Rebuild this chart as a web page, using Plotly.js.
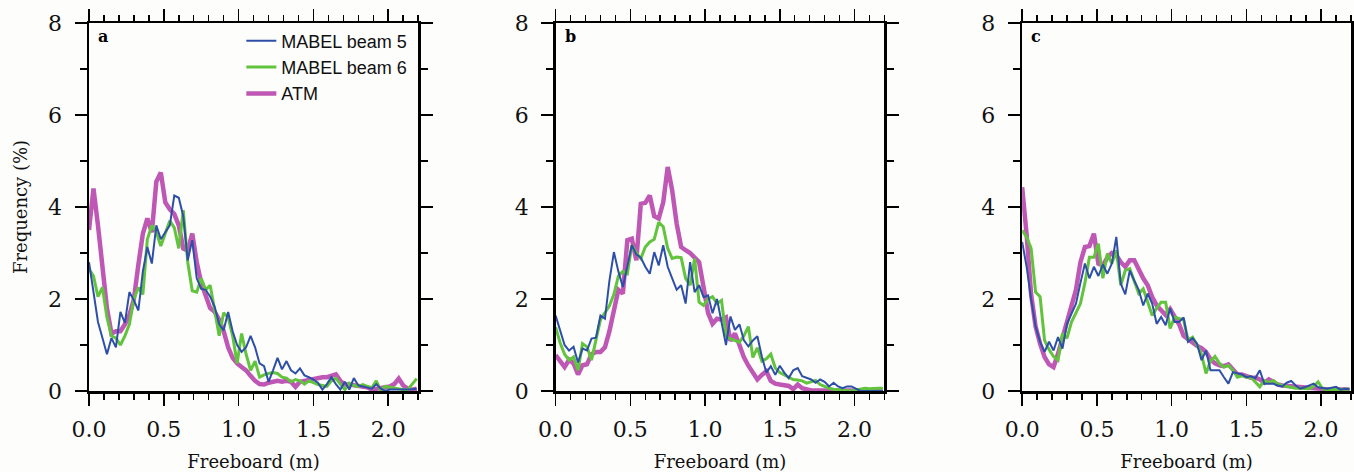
<!DOCTYPE html>
<html>
<head>
<meta charset="utf-8">
<script src="https://cdn.plot.ly/plotly-3.0.1.min.js"></script>
<style>html,body{margin:0;padding:0;background:#fdfdfc;}</style>
</head>
<body>
<div id="chart" style="width:1354px;height:472px;"></div>
<script>
// Freeboard bin centres (m)
const freeboard = [0,0.03,0.06,0.09,0.12,0.15,0.18,0.21,0.24,0.27,0.30,0.33,0.36,0.39,0.42,0.45,0.48,0.51,0.54,0.57,
  0.60,0.63,0.66,0.69,0.72,0.75,0.78,0.81,0.84,0.87,0.90,0.93,0.96,0.99,1.02,1.05,1.08,1.11,1.14,1.17,
  1.20,1.23,1.26,1.29,1.32,1.35,1.38,1.41,1.44,1.47,1.50,1.53,1.56,1.59,1.62,1.65,1.68,1.71,1.74,1.77,
  1.80,1.83,1.86,1.89,1.92,1.95,1.98,2.01,2.04,2.07,2.10,2.13,2.16,2.19];

const seriesNames = ['MABEL beam 5', 'MABEL beam 6', 'ATM'];
const panelLabels = ['a', 'b', 'c'];

// Panel a
const a_beam5 = [2.8,2.1,1.5,1.15,0.8,1.15,0.95,1.72,1.48,2.15, 1.97,1.75,2.6,3.13,2.77,3.6,3.3,3.45,3.6,4.25,
  4.2,3.8,2.84,3.28,2.45,2.22,2.2,2.05,1.83,1.45, 1.32,1.72,1.3,1.0,0.85,0.95,1.2,0.95,0.6,0.54,
  0.2,0.45,0.72,0.47,0.65,0.45,0.38,0.49,0.34,0.3, 0.25,0.18,0.03,0.15,0.3,0.15,0.03,0.2,0.03,0.28,
  0.12,0.1,0.08,0.05,0.15,0.05,0.0,0.03,0.03,0.03, 0.04,0.03,0.04,0.05];
const a_beam6 = [2.65,2.5,2.05,2.25,1.6,1.2,1.15,1.0,1.2,1.45, 2.0,2.25,2.1,3.3,3.6,3.45,3.15,3.45,3.7,3.55,
  3.1,3.93,2.8,2.18,2.15,2.45,2.2,2.3,1.75,1.2, 1.7,1.6,1.2,0.6,1.25,0.8,0.45,0.65,0.3,0.35,
  0.38,0.4,0.38,0.3,0.28,0.2,0.25,0.22,0.15,0.22, 0.18,0.14,0.12,0.1,0.22,0.28,0.15,0.03,0.17,0.12,
  0.1,0.14,0.1,0.07,0.22,0.01,0.1,0.08,0.07,0.05, 0.03,0.03,0.15,0.27];
const a_atm = [3.5,4.4,3.6,2.6,1.8,1.25,1.3,1.3,1.45,1.65, 2.0,2.75,3.42,3.75,3.45,4.55,4.75,4.1,3.95,3.85,
  3.6,3.1,3.05,3.42,2.8,2.35,2.1,1.8,1.72,1.55, 1.3,0.95,0.72,0.6,0.52,0.45,0.33,0.22,0.15,0.14,
  0.18,0.2,0.22,0.2,0.22,0.2,0.09,0.2,0.22,0.25, 0.27,0.28,0.3,0.3,0.32,0.36,0.22,0.14,0.14,0.12,
  0.1,0.1,0.08,0.03,0.04,0.05,0.08,0.1,0.15,0.27, 0.12,0.05,0.03,0.05];

// Panel b
const b_beam5 = [1.64,1.3,1.0,0.88,0.96,0.62,0.92,0.88,1.14,1.16, 1.64,1.57,2.4,3.02,2.6,2.26,2.7,3.17,2.97,2.9,
  2.7,2.55,3.02,2.73,3.17,2.7,2.45,2.2,2.3,1.9, 2.8,2.15,2.3,2.04,2.08,1.69,2.0,1.5,1.0,1.62,
  1.33,1.45,1.1,0.97,1.1,1.19,0.75,0.4,0.54,0.35, 0.55,0.4,0.28,0.45,0.5,0.32,0.28,0.25,0.18,0.25,
  0.2,0.1,0.18,0.1,0.06,0.1,0.1,0.05,0.0,0.0, 0.0,0.0,0.0,0.0];
const b_beam6 = [1.39,1.05,0.8,0.67,0.74,0.45,1.03,0.96,0.67,1.15, 1.55,1.7,1.85,2.1,2.5,2.6,2.55,3.17,3.0,2.88,
  3.13,3.24,3.3,3.67,3.57,3.1,2.88,2.91,2.9,2.45, 2.3,2.88,1.93,1.86,2.0,2.05,1.9,1.97,1.2,1.13,
  1.1,1.06,1.2,1.4,0.73,0.94,0.65,0.7,0.8,0.5, 0.4,0.35,0.3,0.25,0.24,0.22,0.17,0.2,0.23,0.14,
  0.1,0.06,0.04,0.03,0.03,0.02,0.0,0.02,0.04,0.06, 0.05,0.06,0.06,0.06];
const b_atm = [0.78,0.65,0.52,0.68,0.6,0.36,0.56,0.58,0.8,0.85, 0.85,0.95,1.3,1.75,2.2,2.12,3.28,3.31,2.84,4.07,
  4.09,4.25,3.8,3.75,4.1,4.87,4.36,3.64,3.13,3.06, 3.0,2.9,2.8,2.26,1.7,1.46,1.57,1.55,1.6,1.09,
  1.25,1.0,0.73,0.55,0.4,0.25,0.35,0.43,0.22,0.16, 0.14,0.12,0.11,0.04,0.14,0.06,0.03,0.01,0.01,0.01,
  0.01,0.01,0.01,0.01,0.01,0.01,0.01,0.01,0.01,0.01, 0.01,0.01,0.01,0.01];

// Panel c
const c_beam5 = [3.24,2.7,2.0,1.4,1.07,0.85,1.07,0.88,1.17,0.92, 1.46,1.68,1.9,2.35,2.77,2.45,2.7,2.5,2.75,2.55,
  2.77,3.35,2.33,2.1,2.62,2.4,2.2,1.86,2.12,1.9, 1.46,1.61,1.43,1.8,1.5,1.5,1.6,1.07,1.15,1.03,
  0.67,0.88,0.45,0.45,0.45,0.3,0.16,0.41,0.39,0.36, 0.3,0.32,0.28,0.45,0.16,0.16,0.16,0.12,0.1,0.18,
  0.22,0.12,0.05,0.08,0.12,0.16,0.08,0.06,0.05,0.07, 0.09,0.03,0.05,0.04];
const c_beam6 = [3.49,3.35,3.1,2.15,2.05,1.1,0.9,0.75,0.67,1.25, 1.15,1.5,1.7,1.9,2.35,2.91,2.91,3.2,2.45,2.99,
  2.77,3.06,2.3,2.62,2.66,2.4,2.12,2.22,1.95,1.64, 1.8,1.93,1.93,1.36,1.6,1.58,1.55,1.1,1.17,1.0,
  0.8,0.38,0.65,0.75,0.6,0.52,0.56,0.45,0.3,0.33, 0.3,0.3,0.2,0.09,0.23,0.18,0.23,0.15,0.12,0.1,
  0.08,0.06,0.06,0.05,0.05,0.1,0.2,0.05,0.03,0.03, 0.03,0.03,0.03,0.04];
const c_atm = [4.43,3.4,2.1,1.4,1.03,0.74,0.58,0.52,0.81,1.15, 1.5,1.8,2.2,2.8,3.13,3.15,3.42,2.77,2.73,2.9,
  3.0,2.95,2.8,2.7,2.84,2.84,2.62,2.45,2.3,2.04, 1.86,1.75,1.65,1.78,1.6,1.45,1.2,1.12,1.05,0.98,
  0.93,0.85,0.69,0.6,0.56,0.54,0.58,0.45,0.36,0.36, 0.33,0.29,0.29,0.25,0.18,0.25,0.2,0.14,0.12,0.11,
  0.1,0.09,0.08,0.07,0.06,0.05,0.04,0.03,0.03,0.03, 0.03,0.03,0.03,0.03];

const panels = [
  {beam5: a_beam5, beam6: a_beam6, atm: a_atm},
  {beam5: b_beam5, beam6: b_beam6, atm: b_atm},
  {beam5: c_beam5, beam6: c_beam6, atm: c_atm}
];

const colors = {beam5: '#2d4fa7', beam6: '#62c33c', atm: '#bf57b5'};
const widths = {beam5: 2, beam6: 3, atm: 4.5};

const traces = [];
panels.forEach((p, i) => {
  const sfx = i === 0 ? '' : String(i + 1);
  const order = [['atm', 2], ['beam6', 1], ['beam5', 0]];
  order.forEach(([key, ni]) => {
    traces.push({
      type: 'scatter', mode: 'lines',
      x: freeboard, y: p[key],
      name: seriesNames[ni],
      xaxis: 'x' + sfx, yaxis: 'y' + sfx,
      line: {color: colors[key], width: widths[key]},
      showlegend: i === 0,
      hoverinfo: 'skip'
    });
  });
});

const domains = [[0, 0.26083], [0.36975, 0.63026], [0.73942, 1]];
const serif = 'DejaVu Serif, Liberation Serif, serif';

function xAxis(dom, anchor) {
  return {
    domain: dom, anchor: anchor, range: [0, 2.2], tick0: 0, dtick: 0.5, tickformat: '.1f',
    ticks: 'outside', ticklen: 12, tickwidth: 1.5, tickcolor: '#000',
    minor: {tick0: 0, dtick: 0.1, ticks: 'outside', ticklen: 6, tickwidth: 1.5, tickcolor: '#000'},
    showline: true, linewidth: 2.5, linecolor: '#000', mirror: 'allticks',
    showgrid: false, zeroline: false, ticklabelstandoff: 5,
    tickfont: {family: serif, size: 22, color: '#111'},
    title: {text: 'Freeboard (m)', font: {family: serif, size: 18, color: '#111'}, standoff: 18}
  };
}
function yAxis(anchor, withTitle) {
  const ax = {
    domain: [0, 1], anchor: anchor, range: [0, 8], tick0: 0, dtick: 2,
    ticks: 'outside', ticklen: 12, tickwidth: 1.5, tickcolor: '#000',
    minor: {tick0: 0, dtick: 1, ticks: 'outside', ticklen: 7, tickwidth: 1.5, tickcolor: '#000'},
    showline: true, linewidth: 2.5, linecolor: '#000', mirror: 'allticks',
    showgrid: false, zeroline: false, ticklabelstandoff: 8,
    tickfont: {family: serif, size: 22, color: '#111'}
  };
  if (withTitle) ax.title = {text: 'Frequency (%)', font: {family: serif, size: 18, color: '#111'}, standoff: 16};
  return ax;
}

const annotations = panelLabels.map((lab, i) => {
  const sfx = i === 0 ? '' : String(i + 1);
  return {
    text: '<b>' + lab + '</b>', xref: 'x' + sfx + ' domain', yref: 'y' + sfx + ' domain',
    x: 0.022, y: 0.962, xanchor: 'left', yanchor: 'middle', showarrow: false,
    font: {family: serif, size: 16, color: '#000'}
  };
});

const layout = {
  width: 1354, height: 472,
  margin: {l: 89.3, r: 3.3, t: 22.7, b: 81.3},
  paper_bgcolor: '#fdfdfc', plot_bgcolor: '#fdfdfc',
  font: {family: serif, color: '#000'},
  xaxis: xAxis(domains[0], 'y'), yaxis: yAxis('x', true),
  xaxis2: xAxis(domains[1], 'y2'), yaxis2: yAxis('x2', false),
  xaxis3: xAxis(domains[2], 'y3'), yaxis3: yAxis('x3', false),
  showlegend: true,
  legend: {
    x: 0.1207, y: 1.0015, xanchor: 'left', yanchor: 'top', traceorder: 'reversed',
    bgcolor: 'rgba(0,0,0,0)', borderwidth: 0,
    font: {family: 'Liberation Sans, Arial, sans-serif', size: 18, color: '#111'}
  },
  annotations: annotations
};

Plotly.newPlot('chart', traces, layout, {displayModeBar: false, staticPlot: true});
</script>
</body>
</html>
